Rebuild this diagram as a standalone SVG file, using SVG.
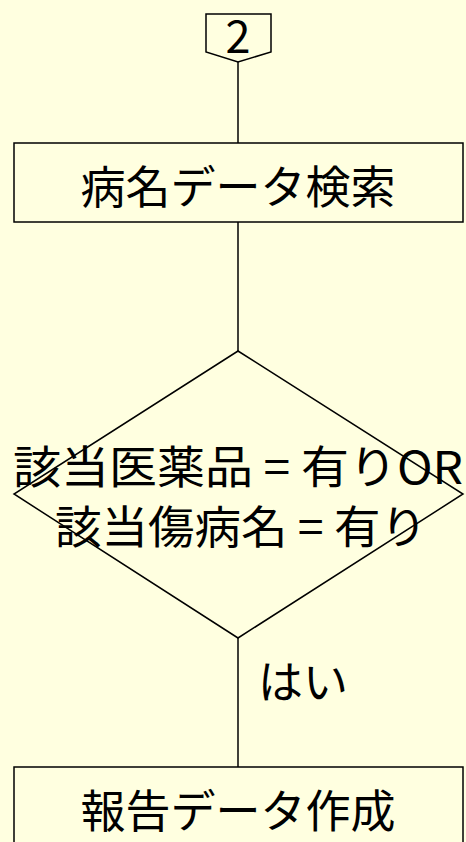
<svg xmlns="http://www.w3.org/2000/svg" width="466" height="842" viewBox="0 0 466 842">
<style>
.s{fill:#FFFFE0;stroke:#000;stroke-width:1.5}
.c{stroke:#000;stroke-width:1.5;fill:none}
.t{font-family:"Noto Sans CJK JP","Liberation Sans",sans-serif;font-size:45px;fill:#000}
.m{text-anchor:middle}
</style>
<rect width="466" height="842" fill="#FFFFE0"/>
<g id="connectors">
<line class="c" x1="238" y1="62" x2="238" y2="143"/>
<line class="c" x1="238" y1="222" x2="238" y2="351"/>
<line class="c" x1="238" y1="638" x2="238" y2="767"/>
<text class="t" x="258" y="699">はい</text>
</g>
<g id="offpage2">
<polygon class="s" points="206,14 271,14 271,52 238,62 206,52"/>
<text class="t m" x="238" y="53">2</text>
</g>
<g id="search">
<rect class="s" x="14" y="143" width="449" height="79"/>
<text class="t m" x="238" y="204">病名データ検索</text>
</g>
<g id="decision">
<polygon class="s" points="238,351 463,494 238,638 14,494"/>
<text class="t m" x="238" y="484" textLength="450" lengthAdjust="spacingAndGlyphs">該当医薬品 = 有りOR</text>
<text class="t m" x="241" y="544" textLength="372" lengthAdjust="spacingAndGlyphs">該当傷病名 = 有り</text>
</g>
<g id="report">
<rect class="s" x="14" y="767" width="449" height="90"/>
<text class="t m" x="238" y="828">報告データ作成</text>
</g>
</svg>
